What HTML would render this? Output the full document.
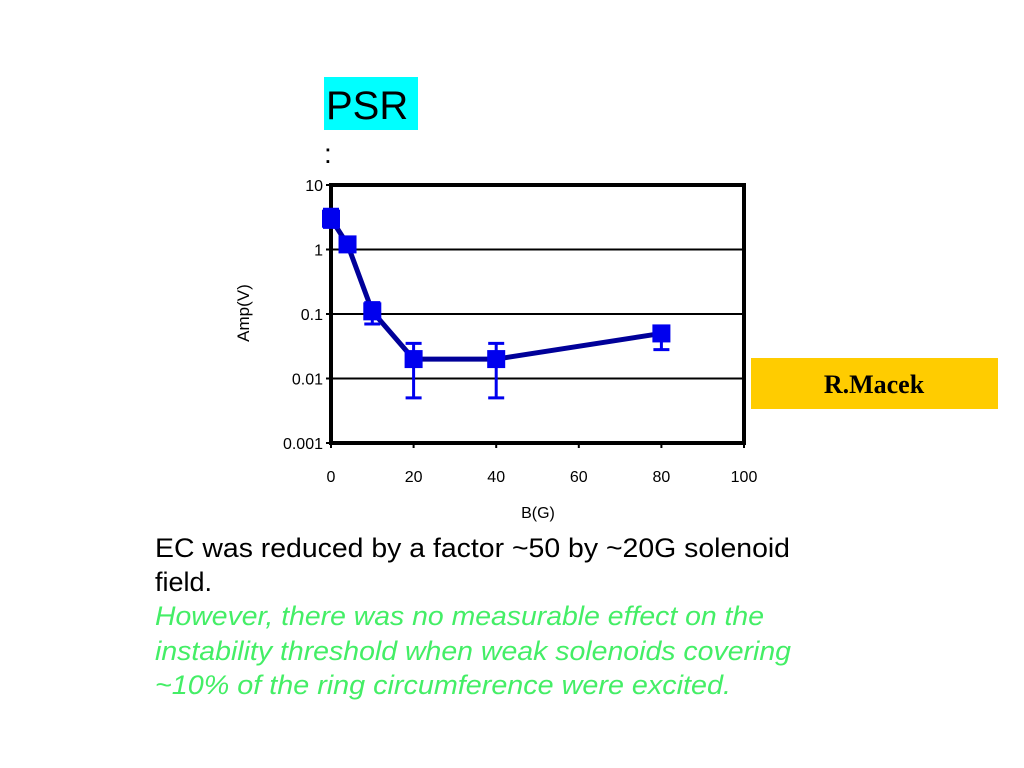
<!DOCTYPE html>
<html><head><meta charset="utf-8"><style>
html,body{margin:0;padding:0;background:#fff;width:1024px;height:768px;overflow:hidden}
svg{display:block}
</style></head><body>
<svg id="chart" width="1024" height="768" xmlns="http://www.w3.org/2000/svg" font-family="Liberation Sans, Arial, sans-serif">
<rect x="324" y="77" width="94" height="53" fill="#00ffff"/>
<text x="326" y="119" font-size="40" fill="#000">PSR</text>
<text x="324" y="163" font-size="28" fill="#000">:</text>
<rect x="751" y="358" width="247" height="51" fill="#ffcc00"/>
<text x="874" y="393" font-size="26" font-weight="bold" font-family="Liberation Serif, serif" text-anchor="middle" fill="#000">R.Macek</text>
<g id="grid"></g>
<g id="axes"></g>
<g id="marks"></g>
<text transform="translate(249,313) rotate(-90)" font-size="17" text-anchor="middle" fill="#000">Amp(V)</text>
<text x="538" y="518" font-size="16" text-anchor="middle" fill="#000">B(G)</text>
<text font-size="27" fill="#000"><tspan x="155" y="557" textLength="635" lengthAdjust="spacingAndGlyphs">EC was reduced by a factor ~50 by ~20G solenoid</tspan><tspan x="155" y="591">field.</tspan></text>
<text font-size="27" font-style="italic" fill="#44ee66"><tspan x="155" y="625" textLength="609" lengthAdjust="spacingAndGlyphs">However, there was no measurable effect on the</tspan><tspan x="155" y="660" textLength="636" lengthAdjust="spacingAndGlyphs">instability threshold when weak solenoids covering</tspan><tspan x="155" y="694" textLength="576" lengthAdjust="spacingAndGlyphs">~10% of  the ring circumference were excited.</tspan></text>
</svg>
<script>
const xVals=[0,4,10,20,40,80];
const yVals=[3,1.2,0.11,0.02,0.02,0.05];
const yLow=[2.2,1.0,0.07,0.005,0.005,0.028];
const yHigh=[4.2,1.4,0.15,0.035,0.035,0.06];
const xTicks=[0,20,40,60,80,100];
const yTicks=[0.001,0.01,0.1,1,10];
const yTickLabels=["0.001","0.01","0.1","1","10"];
const L=331,R=744,T=185,B=443;
const xs=v=>L+(v-0)/100*(R-L);
const ys=v=>B-(Math.log10(v)+3)/4*(B-T);
const NS="http://www.w3.org/2000/svg";
function mk(tag,attrs,parent){const e=document.createElementNS(NS,tag);for(const k in attrs)e.setAttribute(k,attrs[k]);document.getElementById(parent).appendChild(e);return e;}
yTicks.forEach((t,i)=>{
  if(i>0&&i<yTicks.length-1){const g=mk('line',{x1:L,x2:R,y1:ys(t),y2:ys(t),stroke:'#000','stroke-width':2},'grid');
  
  }
  const tk=mk('line',{x1:L-5,x2:L,y1:ys(t),y2:ys(t),stroke:'#000','stroke-width':2},'axes');
  
  
  const lb=mk('text',{x:L-8,y:ys(t)+6,'font-size':16,'text-anchor':'end',fill:'#000'},'axes');
  lb.textContent=yTickLabels[i];
  
  
});
xTicks.forEach(t=>{
  const tk=mk('line',{x1:xs(t),x2:xs(t),y1:B,y2:B+5,stroke:'#000','stroke-width':2},'axes');
  
  
  const lb=mk('text',{x:xs(t),y:482,'font-size':16,'text-anchor':'middle',fill:'#000'},'axes');
  lb.textContent=t;
  
  
});
const frame=mk('rect',{x:L,y:T,width:R-L,height:B-T,fill:'none',stroke:'#000','stroke-width':4},'axes');


const pts=xVals.map((x,i)=>xs(x)+','+ys(yVals[i])).join(' ');
const line=mk('polyline',{points:pts,fill:'none',stroke:'#000099','stroke-width':5},'marks');


xVals.forEach((x,i)=>{
  const cx=xs(x);
  const eb=mk('path',{d:`M${cx},${ys(yLow[i])}V${ys(yHigh[i])}M${cx-8},${ys(yLow[i])}H${cx+8}M${cx-8},${ys(yHigh[i])}H${cx+8}`,stroke:'#0000ee','stroke-width':3,fill:'none'},'marks');
  
  
  const m=mk('rect',{x:cx-9,y:ys(yVals[i])-9,width:18,height:18,fill:'#0000ee'},'marks');
  
  
});
</script>
</body></html>
